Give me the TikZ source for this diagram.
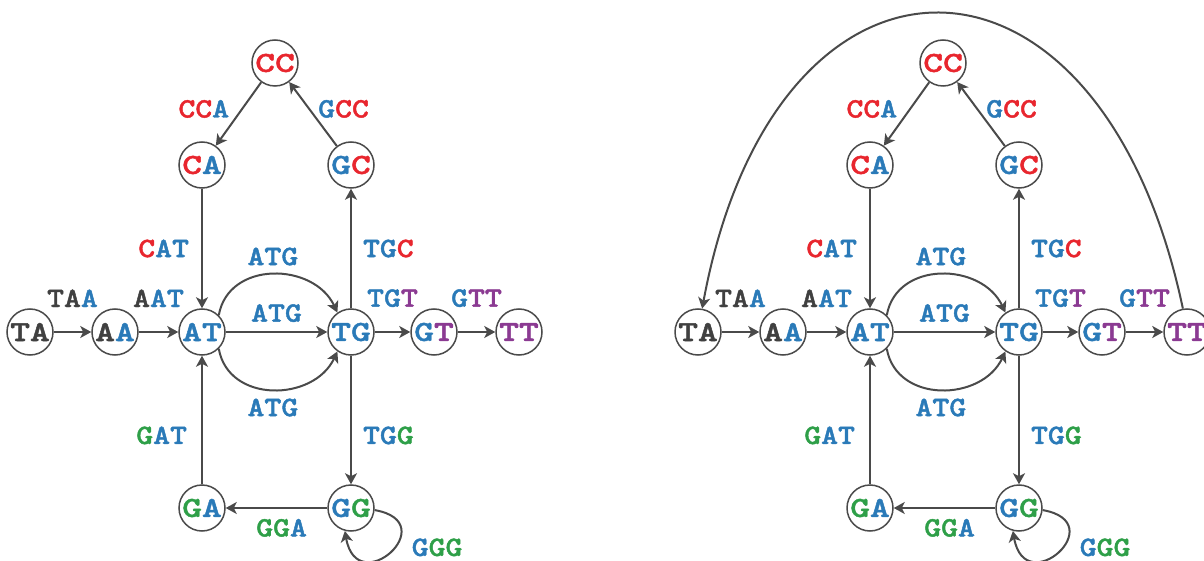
\documentclass[tikz,border=0pt]{standalone}
\usepackage{fontspec}
\usepackage{xcolor}
\usetikzlibrary{positioning,arrows.meta}
\newfontfamily\letrasnodo{lmmonolt10-bold.otf}[FakeStretch=1.3, FakeBold=1.6]
\newfontfamily\letrasarista{lmmonolt10-bold.otf}[FakeStretch=1.15, FakeBold=1.6]
\definecolor{gris}{HTML}{404040}
\definecolor{linea}{HTML}{4A4A4A}
\definecolor{azul}{HTML}{2A7AB8}
\definecolor{rojo}{HTML}{E8262E}
\definecolor{verde}{HTML}{2E9F48}
\definecolor{morado}{HTML}{8B3A92}
\newcommand{\gris}[1]{\textcolor{gris}{#1}}
\newcommand{\azul}[1]{\textcolor{azul}{#1}}
\newcommand{\rojo}[1]{\textcolor{rojo}{#1}}
\newcommand{\verde}[1]{\textcolor{verde}{#1}}
\newcommand{\morado}[1]{\textcolor{morado}{#1}}
\newcommand{\grafo}[1]{%
  \node[n] (#1TA) at (30,332) {\gris{TA}};
  \node[n, right=85pt of #1TA] (#1AA) {\gris{A}\azul{A}};
  \node[n, right=87pt of #1AA] (#1AT) {\azul{AT}};
  \node[n, right=149pt of #1AT] (#1TG) {\azul{TG}};
  \node[n, right=83pt of #1TG] (#1GT) {\azul{G}\morado{T}};
  \node[n, right=85pt of #1GT] (#1TT) {\morado{TT}};
  \node[n, above=167pt of #1AT] (#1CA) {\rojo{C}\azul{A}};
  \node[n, above=167pt of #1TG] (#1GC) {\azul{G}\rojo{C}};
  \node[n, above right=102pt and 73pt of #1CA] (#1CC) {\rojo{CC}};
  \node[n, below=176pt of #1AT] (#1GA) {\verde{G}\azul{A}};
  \node[n, below=176pt of #1TG] (#1GG) {\azul{G}\verde{G}};
  \draw[e] (#1TA) -- node[l, above=24pt] (#1taa) {\gris{TA}\azul{A}} (#1AA);
  \draw[e] (#1AA) -- node[l, above=24pt] (#1aat) {\gris{A}\azul{AT}} (#1AT);
  \draw[e] (#1AT) -- node[l, above=9pt] (#1atg) {\azul{ATG}} (#1TG);
  \draw[e] (#1AT.45) to[out=80, in=115, looseness=1.2]
    node[l, above=8pt] (#1atga) {\azul{ATG}} (#1TG.125);
  \draw[e] (#1AT.-45) to[out=-80, in=-115, looseness=1.2]
    node[l, below=8pt] (#1atgb) {\azul{ATG}} (#1TG.-125);
  \draw[e] (#1CA) -- node[l, left=12pt] (#1cat) {\rojo{C}\azul{AT}} (#1AT);
  \draw[e] (#1TG) -- node[l, right=11pt] (#1tgc) {\azul{TG}\rojo{C}} (#1GC);
  \draw[e] (#1TG) -- node[l, above=24pt] (#1tgt) {\azul{TG}\morado{T}} (#1GT);
  \draw[e] (#1GT) -- node[l, above=24pt] (#1gtt) {\azul{G}\morado{TT}} (#1TT);
  \draw[e] (#1CC) -- node[l, pos=.42, left=12pt] (#1cca) {\rojo{CC}\azul{A}} (#1CA);
  \draw[e] (#1GC) -- node[l, pos=.58, right=8pt] (#1gcc) {\azul{G}\rojo{CC}} (#1CC);
  \draw[e] (#1GA) -- node[l, pos=.38, left=14pt] (#1gat) {\verde{G}\azul{AT}} (#1AT);
  \draw[e] (#1TG) -- node[l, pos=.62, right=11pt] (#1tgg) {\azul{TG}\verde{G}} (#1GG);
  \draw[e] (#1GG) -- node[l, pos=.45, below=10pt] (#1gga) {\verde{GG}\azul{A}} (#1GA);
  \draw[e] (#1GG.-5) to[out=-10, in=-80, looseness=5]
    node[l, pos=.45, right=16pt] (#1ggg) {\azul{G}\verde{GG}} (#1GG.-105);
}

\begin{document}
\begin{tikzpicture}[x=1pt, y=-1pt, >={Stealth[length=11pt, width=12pt, inset=3pt]},
      n/.style={circle, draw=linea, line width=1.5pt, minimum size=46pt, inner sep=0pt,
                on grid, font=\letrasnodo\fontsize{29}{29}\selectfont},
      e/.style={->, draw=linea, line width=2pt},
      l/.style={inner sep=0pt, font=\letrasarista\fontsize{28}{28}\selectfont}]
    \useasboundingbox (0,0) rectangle (1204,561);
    \grafo{l}
    \begin{scope}[xshift=668pt]
      \grafo{r}
      \draw[e] (rTT.100) .. controls (432,-85) and (107,-85) .. (rTA.80);
    \end{scope}
  \end{tikzpicture}
\end{document}
